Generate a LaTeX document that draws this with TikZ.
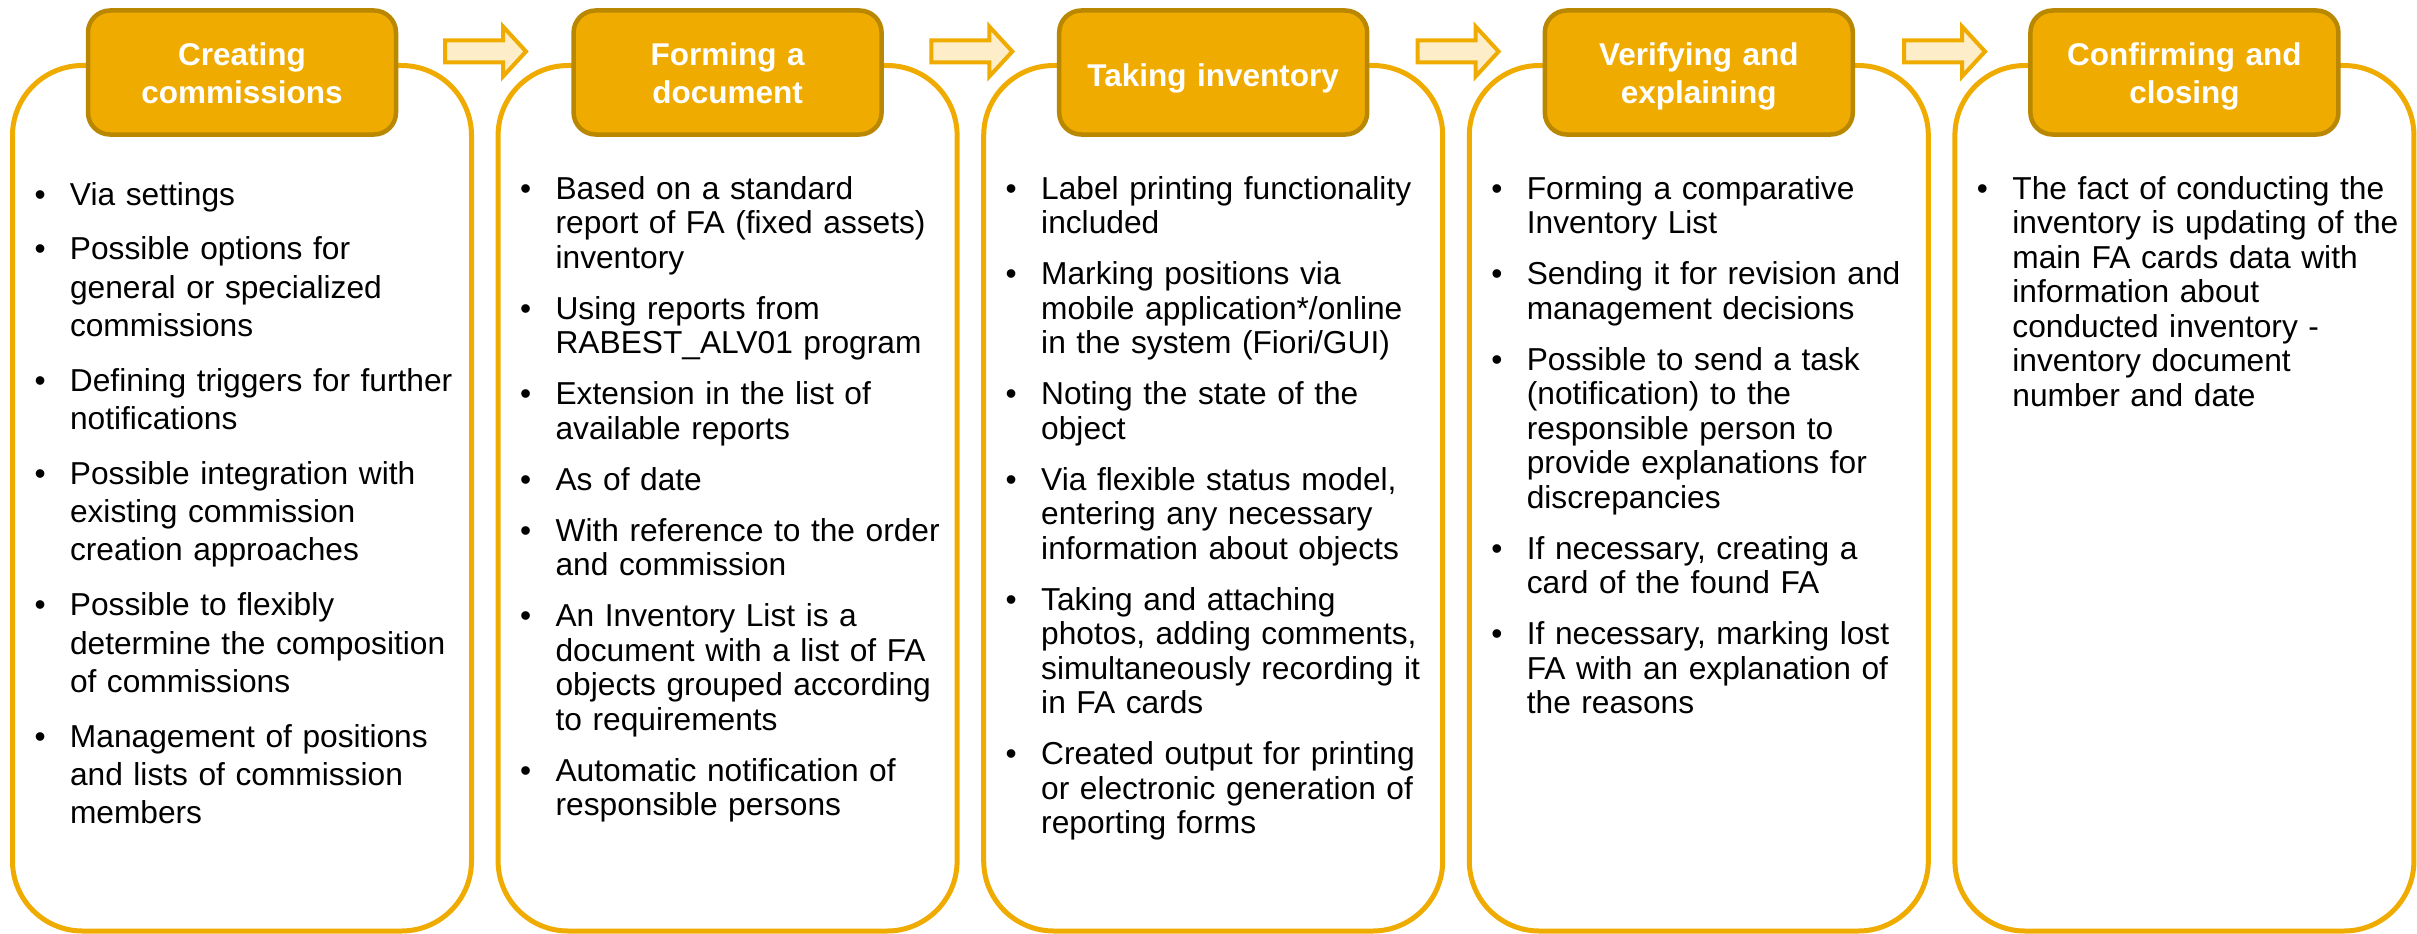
\documentclass[tikz,border=0pt]{standalone}
\usepackage{fontspec}
\setmainfont{Liberation Sans}
\definecolor{gold}{HTML}{F0AB00}
\definecolor{golddark}{HTML}{B98700}
\definecolor{cream}{HTML}{FDEEC9}
\newcommand\bitem[1]{\noindent\hangindent=35.5pt\hangafter=1\makebox[35.5pt][l]{\textbullet}#1\par}
\tikzset{
  panel/.style={draw=gold, line width=5pt, fill=white, rounded corners=70pt,
    minimum width=459pt, minimum height=865.5pt, outer sep=0pt, inner sep=0pt, anchor=north west},
  headbox/.style={draw=golddark, line width=4.5pt, fill=gold, rounded corners=22pt,
    minimum width=308pt, minimum height=124pt, outer sep=0pt, inner sep=0pt},
  headtext/.style={text=white, font=\fontsize{31.5}{38}\selectfont\bfseries,
    text width=300pt, align=center, inner sep=0pt, outer sep=0pt, anchor=base},
  bodytext/.style={text width=440pt, align=left, inner sep=0pt, outer sep=0pt,
    anchor=base west, font=\fontsize{31.7}{34.5}\selectfont},
  flowarrow/.style={draw=gold, line width=4pt, fill=cream, line join=miter}
}
\begin{document}
\begin{tikzpicture}[x=1pt,y=-1pt]
\useasboundingbox (0,0) rectangle (2417,934);
% panels
\node[panel] (p1) at (12.5,65.5) {};
\node[panel] (p2) at (498.1,65.5) {};
\node[panel] (p3) at (983.7,65.5) {};
\node[panel] (p4) at (1469.3,65.5) {};
\node[panel] (p5) at (1954.9,65.5) {};
% header boxes
\node[headbox] (h1) at (242,72.5) {};
\node[headbox] (h2) at (727.6,72.5) {};
\node[headbox] (h3) at (1213.2,72.5) {};
\node[headbox] (h4) at (1698.8,72.5) {};
\node[headbox] (h5) at (2184.4,72.5) {};
\node[headtext] (t1) at (242,66) {Creating\\commissions};
\node[headtext] (t2) at (727.6,66) {Forming a\\document};
\node[headtext] (t3) at (1213.2,86) {Taking inventory};
\node[headtext] (t4) at (1698.8,66) {Verifying and\\explaining};
\node[headtext] (t5) at (2184.4,66) {Confirming and\\closing};
% arrows
\foreach \n/\cx in {1/486,2/972.3,3/1458.6,4/1945}{
  \coordinate (a\n) at (\cx,51.5);
  \draw[flowarrow, shift={(a\n)}] (-41,-11) -- (17,-11) -- (17,-25) -- (40,0) -- (17,25) -- (17,11) -- (-41,11) -- cycle;
}
% body texts
\node[bodytext, font=\fontsize{31.7}{38.3}\selectfont] (b1) at (34.5,205) {\setlength\parskip{16.5pt}%
\bitem{Via settings}
\bitem{Possible options for\newline general or specialized\newline commissions}
\bitem{Defining triggers for further\newline notifications}
\bitem{Possible integration with\newline existing commission\newline creation approaches}
\bitem{Possible to flexibly\newline determine the composition\newline of commissions}
\bitem{Management of positions\newline and lists of commission\newline members}};
\node[bodytext] (b2) at (520.1,199) {\setlength\parskip{16.5pt}%
\bitem{Based on a standard\newline report of FA (fixed assets)\newline inventory}
\bitem{Using reports from\newline RABEST\_ALV01 program}
\bitem{Extension in the list of\newline available reports}
\bitem{As of date}
\bitem{With reference to the order\newline and commission}
\bitem{An Inventory List is a\newline document with a list of FA\newline objects grouped according\newline to requirements}
\bitem{Automatic notification of\newline responsible persons}};
\node[bodytext] (b3) at (1005.7,199) {\setlength\parskip{16.5pt}%
\bitem{Label printing functionality\newline included}
\bitem{Marking positions via\newline mobile application*/online\newline in the system (Fiori/GUI)}
\bitem{Noting the state of the\newline object}
\bitem{Via flexible status model,\newline entering any necessary\newline information about objects}
\bitem{Taking and attaching\newline photos, adding comments,\newline simultaneously recording it\newline in FA cards}
\bitem{Created output for printing\newline or electronic generation of\newline reporting forms}};
\node[bodytext] (b4) at (1491.3,199) {\setlength\parskip{16.5pt}%
\bitem{Forming a comparative\newline Inventory List}
\bitem{Sending it for revision and\newline management decisions}
\bitem{Possible to send a task\newline (notification) to the\newline responsible person to\newline provide explanations for\newline discrepancies}
\bitem{If necessary, creating a\newline card of the found FA}
\bitem{If necessary, marking lost\newline FA with an explanation of\newline the reasons}};
\node[bodytext] (b5) at (1976.9,199) {\setlength\parskip{16.5pt}%
\bitem{The fact of conducting the\newline inventory is updating of the\newline main FA cards data with\newline information about\newline conducted inventory -\newline inventory document\newline number and date}};
\end{tikzpicture}
\end{document}
